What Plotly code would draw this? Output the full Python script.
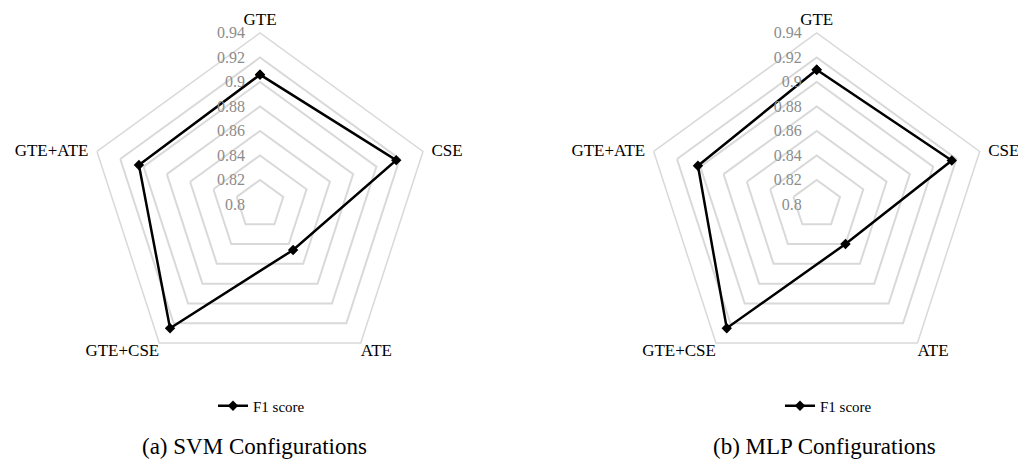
import plotly.graph_objects as go

categories = ["GTE", "CSE", "ATE", "GTE+CSE", "GTE+ATE"]
svm_f1 = [0.906, 0.917, 0.846, 0.925, 0.904]
mlp_f1 = [0.910, 0.916, 0.840, 0.925, 0.902]
radial_ticks = [0.8, 0.82, 0.84, 0.86, 0.88, 0.9, 0.92, 0.94]
series_name = "F1 score"
captions = ["(a) SVM Configurations", "(b) MLP Configurations"]

FONT = "Liberation Serif"
GRID = "#d9d9d9"
R_MIN, R_MAX = 0.8, 0.94
NB = "\u00a0"

# the page body has an 8px margin; figure is sized to fill the rest of the window
W, H, OFF = 1018, 460, 8
def px(x):
    return (x - OFF) / W
def py(y):
    return 1 - (y - OFF) / H

# top category uses the angular-axis tick label; the others are text placed on the outer ring
side_cats = categories[1:]
side_text = [NB * 2 + categories[1], categories[2], categories[3], categories[4] + NB * 2]
side_pos = ["middle right", "bottom right", "bottom left", "middle left"]

fig = go.Figure()

def closed(vals):
    return list(vals) + [vals[0]]

for vals, pol, leg in [(svm_f1, "polar", "legend"), (mlp_f1, "polar2", "legend2")]:
    fig.add_trace(go.Scatterpolar(
        r=closed(vals), theta=closed(categories), mode="lines+markers",
        name=series_name, subplot=pol, legend=leg,
        line=dict(color="black", width=2.5),
        marker=dict(symbol="diamond", size=8, color="black"),
        showlegend=True, hoverinfo="r+theta",
    ))
    fig.add_trace(go.Scatterpolar(
        r=[R_MAX] * len(side_cats), theta=side_cats, mode="text",
        text=side_text, textposition=side_pos, cliponaxis=False,
        textfont=dict(family=FONT, size=17, color="black"),
        subplot=pol, showlegend=False, hoverinfo="skip",
    ))

def polar_cfg(cx, cy=204.4, rad=171.4):
    return dict(
        domain=dict(x=[px(cx - rad), px(cx + rad)], y=[py(cy + rad), py(cy - rad)]),
        gridshape="linear",
        bgcolor="white",
        radialaxis=dict(
            range=[R_MIN, R_MAX], tickvals=radial_ticks,
            ticktext=[f"{v:g}" + NB * 3 for v in radial_ticks],
            angle=90, tickangle=90, side="counterclockwise",
            showline=False, ticks="", gridcolor=GRID, gridwidth=1.5,
            tickfont=dict(family=FONT, size=16, color="#8c8c8c"),
        ),
        angularaxis=dict(
            categoryorder="array", categoryarray=categories,
            direction="clockwise", rotation=90,
            showgrid=False, showline=True, linecolor=GRID, linewidth=1.5,
            ticks="", tickvals=categories,
            ticktext=[categories[0]] + [""] * (len(categories) - 1),
            tickfont=dict(family=FONT, size=17, color="black"),
        ),
    )

legend_common = dict(yanchor="middle", xanchor="left", orientation="h",
                     font=dict(family=FONT, size=15, color="black"),
                     bgcolor="rgba(0,0,0,0)")

fig.update_layout(
    width=W, height=H,
    margin=dict(l=0, r=0, t=0, b=0),
    paper_bgcolor="white", plot_bgcolor="white",
    polar=polar_cfg(260),
    polar2=polar_cfg(816.7),
    legend=dict(x=px(213), y=py(406), **legend_common),
    legend2=dict(x=px(780), y=py(406), **legend_common),
    annotations=[
        dict(text=captions[0], x=px(254), y=py(446), xref="paper", yref="paper",
             xanchor="center", yanchor="middle", showarrow=False,
             font=dict(family=FONT, size=23, color="black")),
        dict(text=captions[1], x=px(824), y=py(446), xref="paper", yref="paper",
             xanchor="center", yanchor="middle", showarrow=False,
             font=dict(family=FONT, size=23, color="black")),
    ],
)

fig.write_html("out.html")
